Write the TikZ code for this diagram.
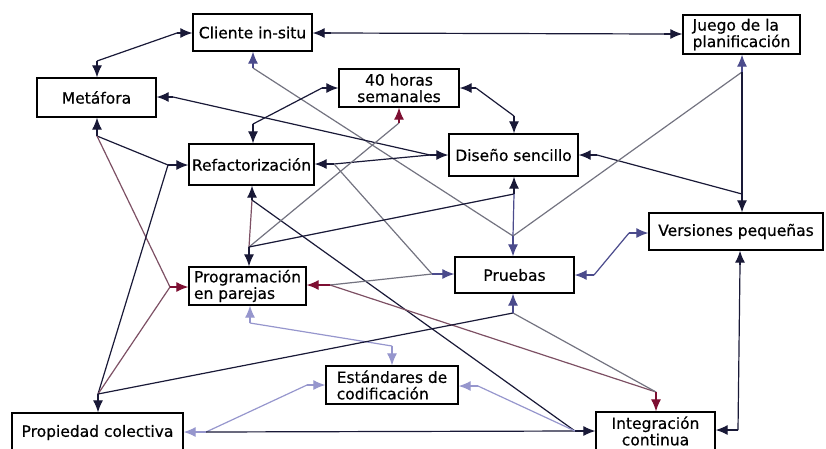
\documentclass[tikz,border=0pt]{standalone}
\usepackage{fontspec}
\setmainfont{DejaVu Sans}
\newfontfamily\boxfont[FakeBold=0.5]{DejaVu Sans}
\usetikzlibrary{arrows.meta}
\definecolor{ink}{RGB}{25,25,55}
\definecolor{slate}{RGB}{75,75,140}
\definecolor{wine}{RGB}{125,15,50}
\definecolor{lav}{RGB}{150,150,205}
\definecolor{ash}{RGB}{115,115,128}
\definecolor{rosy}{RGB}{125,80,100}
\tikzset{
    practice/.style={
        rectangle,
        draw=black,
        fill=white,
        line width=1.3pt,
        inner sep=1.5pt,
        font=\boxfont\fontsize{15.5}{16.5}\selectfont,
    },
    link/.style={
        line width=1.2pt,
    },
    tip/.style={
        line width=1.2pt,
        -{Latex[length=12pt,width=10pt]},
    },
}

\begin{document}
\begin{tikzpicture}[x=1pt,y=-1pt]
    \clip (0,0) rectangle (826,448);
    % practices
    \node [practice, minimum width=119pt, minimum height=37pt] (cli) at (252.5,32.5) {Cliente in-situ};
    \node [practice, minimum width=117pt, minimum height=39pt, align=left] (jue) at (741.5,34.5) {Juego de la\\planificación};
    \node [practice, minimum width=119pt, minimum height=39pt] (met) at (96.5,97.5) {Metáfora};
    \node [practice, minimum width=120pt, minimum height=38pt, align=center] (hor) at (399,88) {40 horas\\semanales};
    \node [practice, minimum width=125pt, minimum height=41pt] (ref) at (251.5,164.5) {Refactorización};
    \node [practice, minimum width=129pt, minimum height=42pt] (dis) at (513.5,155) {Diseño sencillo};
    \node [practice, minimum width=174pt, minimum height=37pt] (ver) at (736,231.5) {Versiones pequeñas};
    \node [practice, minimum width=117pt, minimum height=38pt, align=left] (pro) at (247.5,286) {Programación\\en parejas};
    \node [practice, minimum width=119pt, minimum height=36pt] (pru) at (514.5,275) {Pruebas};
    \node [practice, minimum width=132pt, minimum height=38pt, align=left] (est) at (392,385) {Estándares de\\codificación};
    \node [practice, minimum width=171pt, minimum height=39pt] (prop) at (97.5,432.5) {Propiedad colectiva};
    \node [practice, minimum width=119pt, minimum height=38pt, align=center] (int) at (655.5,431) {Integración\\continua};

    % stubs
    \coordinate (cliW) at (177,33);   \coordinate (cliE) at (331,33);   \coordinate (cliS) at (253,68);
    \coordinate (jueW) at (664,34);   \coordinate (jueS) at (742,72);
    \coordinate (metN) at (97,61);    \coordinate (metE) at (173,97);   \coordinate (metS) at (97,136);
    \coordinate (horW) at (322,88);   \coordinate (horE) at (476,88);   \coordinate (horS) at (399,123);
    \coordinate (refN) at (253,124);  \coordinate (refW) at (168,165);  \coordinate (refE) at (334,164);
    \coordinate (refS) at (252,200);
    \coordinate (disN) at (514,116);  \coordinate (disW) at (430,155);  \coordinate (disE) at (597,155);
    \coordinate (disS) at (514,194);
    \coordinate (verN) at (742,194);  \coordinate (verW) at (629,233);  \coordinate (verS) at (740,265);
    \coordinate (proN) at (249,247);  \coordinate (proW) at (170,287);  \coordinate (proE) at (330,285);
    \coordinate (proS) at (250,323);
    \coordinate (pruN) at (513,236);  \coordinate (pruW) at (432,274);  \coordinate (pruE) at (594,275);
    \coordinate (pruS) at (513,313);
    \coordinate (estN) at (392,346);  \coordinate (estW) at (307,385);  \coordinate (estE) at (478,386);
    \coordinate (propN) at (98,394);  \coordinate (propE) at (206,432);
    \coordinate (intW) at (575,431);  \coordinate (intN) at (656,392);  \coordinate (intE) at (738,430);

    % links between stubs
    \foreach \a/\b/\c in {metN/cliW/ink, cliE/jueW/ink, cliS/pruN/ash, metE/disW/ink,
        metS/refW/ink, metS/proW/rosy, refN/horW/ink, refE/disW/ink, refE/pruW/ash,
        refS/proN/rosy, refS/intW/ink, proN/horS/ash, proN/disS/ink, proE/pruW/ash,
        proE/intN/rosy, proS/estN/lav, propN/refW/ink, propN/proW/rosy, propN/pruS/ink,
        propE/estW/lav, propE/intW/ink, estE/intW/lav, horE/disN/ink, disE/verN/ink,
        disS/pruN/slate, jueS/pruN/ash, jueS/verN/ink, pruE/verW/slate, pruS/intN/ash,
        intE/verS/ink}
        \draw [link, \c] (\a) -- (\b);

    % arrowheads into the boxes
    \foreach \s/\n/\p/\c in {cliS/cli/south/slate, jueS/jue/south/slate, metN/met/north/ink,
        metS/met/south/ink, horS/hor/south/wine, refN/ref/north/ink, refS/ref/south/ink,
        disN/dis/north/ink, disS/dis/south/ink, verN/ver/north/ink, verS/ver/south/ink,
        proN/pro/north/ink, proS/pro/south/lav, pruN/pru/north/slate, pruS/pru/south/slate,
        estN/est/north/lav, propN/prop/north/ink, intN/int/north/wine}
        \draw [tip, \c] (\s) -- (\s |- \n.\p);
    \foreach \s/\n/\p/\c in {cliW/cli/west/ink, cliE/cli/east/ink, jueW/jue/west/ink,
        metE/met/east/ink, horW/hor/west/ink, horE/hor/east/ink, refW/ref/west/ink,
        refE/ref/east/ink, disW/dis/west/ink, disE/dis/east/ink, verW/ver/west/slate,
        proW/pro/west/wine, proE/pro/east/wine, pruW/pru/west/slate, pruE/pru/east/slate,
        estW/est/west/lav, estE/est/east/lav, propE/prop/east/lav, intW/int/west/ink,
        intE/int/east/ink}
        \draw [tip, \c] (\s) -- (\n.\p |- \s);
\end{tikzpicture}
\end{document}
